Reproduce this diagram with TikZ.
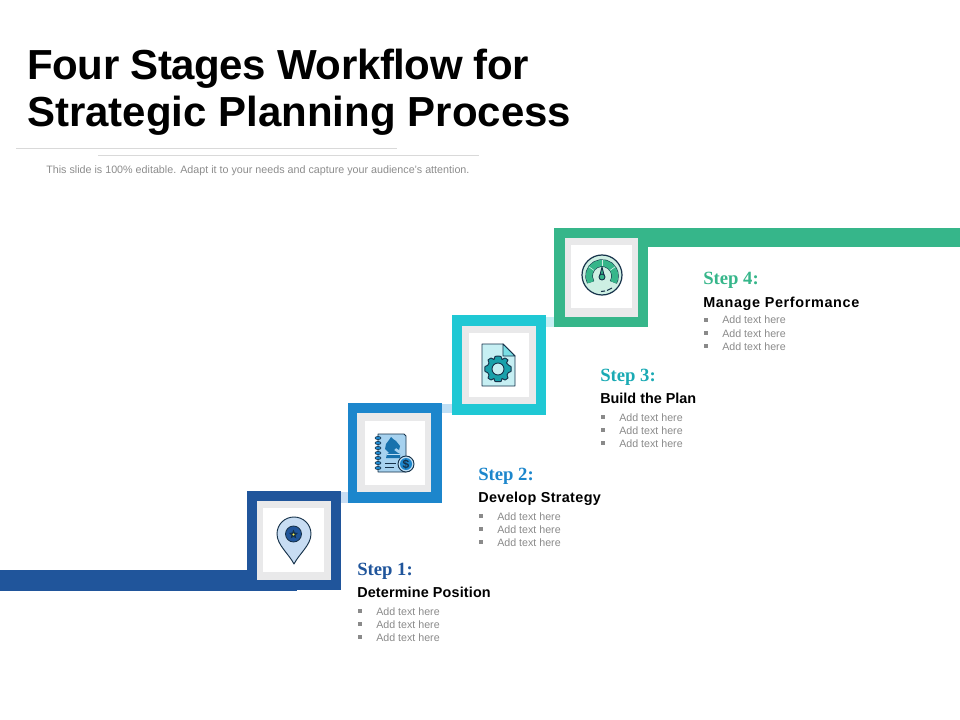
\documentclass[tikz,border=0pt]{standalone}
\usepackage{fontspec}
\setmainfont{Liberation Sans}
\newfontfamily\titlefont{Liberation Sans Bold}
\newfontfamily\headfont{Liberation Sans Bold}
\newfontfamily\stepfont{Liberation Serif Bold}
\definecolor{cA}{HTML}{20559B}
\definecolor{cB}{HTML}{1C86CC}
\definecolor{cC}{HTML}{1FC8D4}
\definecolor{cD}{HTML}{36B68A}
\definecolor{lA}{HTML}{C8DDF3}
\definecolor{lB}{HTML}{BFDFF5}
\definecolor{lC}{HTML}{C6EFF3}
\definecolor{lD}{HTML}{CDEFE3}
\definecolor{frameg}{HTML}{E9E9EA}
\definecolor{rulec}{HTML}{D9D9D9}
\definecolor{subc}{HTML}{8C8C8C}
\definecolor{addc}{HTML}{8A8A8A}
\definecolor{inkc}{HTML}{16324A}
\tikzset{
  titletext/.style={anchor=base west,inner sep=0pt,font=\titlefont\fontsize{31.5}{33}\selectfont,text=black},
  steptext/.style={anchor=base west,inner sep=0pt,font=\stepfont\fontsize{14}{14}\selectfont},
  headtext/.style={anchor=base west,inner sep=0pt,font=\headfont\fontsize{10.8}{12}\selectfont,text=black},
  addtext/.style={anchor=base west,inner sep=0pt,font=\fontsize{8}{10}\selectfont,text=addc},
  bulletmark/.style={fill=addc,draw=none,minimum size=2.4pt,inner sep=0pt},
  ruleline/.style={draw=rulec,line width=0.6pt},
  icon/.style={draw=inkc,line width=0.7pt,line join=round},
}
% id, colour, x, step baseline, list baseline, step text, heading letter spacing, heading
\newcommand{\textgroup}[8]{%
  \node[steptext,text=#2] (s#1) at (#3,#4) {#6};
  \node[headtext] (h#1) at (#3,#4+22) {\addfontfeatures{LetterSpace=#7}#8};
  \foreach \k/\d in {1/0,2/13,3/26}{
    \node[addtext] (a#1\k) at (#3+19,#5+\d) {Add text here};
    \node[bulletmark] (m#1\k) at (#3+3,#5+\d-4) {};
  }
}
\begin{document}
\begin{tikzpicture}[x=0.75pt,y=-0.75pt]
\useasboundingbox (0,0) rectangle (960,720);
% title
\node[titletext] (t1) at (27,80) {\addfontfeatures{LetterSpace=-1}Four Stages Workflow for};
\node[titletext] (t2) at (27,127) {Strategic Planning Process};
\draw[ruleline] (16,148.5) -- (397,148.5);
\draw[ruleline] (98,155) -- (479,155);
\node[anchor=base west,inner sep=0pt,font=\fontsize{8.05}{10}\selectfont,text=subc] (sub) at (46,174) {This slide is 100\% editable. Adapt it to your needs and capture your audience's attention.};
% connectors
\fill[lA] (341,492) rectangle (350,503);
\fill[lB] (442,404) rectangle (454,413);
\fill[lC] (546,317) rectangle (556,327);
% bands
\fill[cA] (0,570) rectangle (297,591);
\fill[cD] (554,228) rectangle (960,247);
% box 1
\fill[cA] (247,491) rectangle (341,590);
\fill[frameg] (257,501) rectangle (331,580);
\fill[white] (263,508) rectangle (324,572);
% box 2
\fill[cB] (348,403) rectangle (442,503);
\fill[frameg] (357,413) rectangle (431,492);
\fill[white] (365,421) rectangle (425,485);
% box 3
\fill[cC] (452,315) rectangle (546,415);
\fill[frameg] (462,326) rectangle (536,404);
\fill[white] (469,333) rectangle (529,397);
% box 4
\fill[cD] (554,228) rectangle (648,327);
\fill[frameg] (565,238) rectangle (638,317);
\fill[white] (571,245) rectangle (632,308);
% icon 1: pin
\draw[icon,fill=lA] (294,564) .. controls (289,554) and (277,545) .. (277,534)
  .. controls (277,524) and (285,517) .. (294,517)
  .. controls (303,517) and (311,524) .. (311,534)
  .. controls (311,545) and (299,554) .. (294,564) -- cycle;
\fill[cA,draw=inkc,line width=0.6pt] (293.5,534) circle[radius=8];
\fill[inkc] (293.5,529.5) -- (294.8,532.6) -- (298,533) -- (295.6,535.2) -- (296.3,538.4) -- (293.5,536.8) -- (290.7,538.4) -- (291.4,535.2) -- (289,533) -- (292.2,532.6) -- cycle;
\fill[yellow!70!white] (293.5,534.5) circle[radius=1.2];
% icon 2: notebook
\draw[icon,fill=lB!85!cB] (378,434) -- (404,434) -- (406,436) -- (406,472) -- (378,472) -- cycle;
\foreach \y in {438,443,448,453,458,463,468}{
  \draw[draw=inkc,fill=cB,line width=0.4pt] (378,\y) ellipse[x radius=3,y radius=1.6];
}
\fill[cB!85!black] (386,458) -- (400,458) -- (400,454) -- (398,453) -- (394,450) -- (396,448) -- (399,450) -- (400,446) -- (396,441) -- (393,439) -- (391,437) -- (389,440) -- (386,444) -- (385,449) -- (389,453) -- (387,454) -- cycle;
\draw[lB,line width=0.4pt] (387,454) -- (400,454);
\draw[inkc,line width=0.5pt] (385,463) -- (396,463) (385,467) -- (394,467);
\draw[icon,fill=lB] (406,464) circle[radius=8];
\fill[cB] (406,464) circle[radius=6];
\node[inner sep=0pt,font=\headfont\fontsize{9}{9}\selectfont,text=inkc] (dollar) at (406,464) {\$};
% icon 3: document with gear
\draw[icon,fill=lC] (482,344) -- (503,344) -- (515,356) -- (515,386) -- (482,386) -- cycle;
\draw[icon,fill=cC!60!white] (503,344) -- (503,356) -- (515,356) -- cycle;
\draw[icon,fill=cC!80!black] plot[smooth cycle,tension=0.15] coordinates {
 (498,356) (501,356.5) (502,359.5) (505,358) (508,360) (506.5,363) (509,365.5) (511,366.5) (511,371.5) (508.5,372.5) (507,375) (508,378) (505,380) (502,378.5) (501,381.5) (495,381.5) (494,378.5) (491,380) (488,378) (489,375) (487.5,372.5) (485,371.5) (485,366.5) (487.5,365.5) (489,363) (488,360) (491,358) (494,359.5) (495,356.5)};
\draw[icon,fill=lC] (498,369) circle[radius=6];
% icon 4: gauge
\draw[draw=inkc,line width=0.9pt,fill=lD] (602,275) circle[radius=20];
\draw[inkc,line width=5.6pt] (602,276) ++(151:13) arc[start angle=151,end angle=389,radius=13];
\draw[cD,line width=4.8pt] (602,276) ++(151:13) arc[start angle=151,end angle=389,radius=13];
\foreach \a in {215,270,325}{
  \draw[lD,line width=0.5pt] (602,276) ++(\a:9.8) -- ++(\a:6.4);
}
\draw[icon,fill=cD] (602,267) -- (604,275) -- (600,275) -- cycle;
\draw[icon,fill=cD] (602,277) circle[radius=3];
\draw[inkc,line width=0.8pt] (601,291.5) -- (605,291) (607,290.5) -- (612,288);
% texts
\textgroup{1}{cA}{357}{575}{615}{Step 1:}{1}{Determine Position}
\textgroup{2}{cB}{478}{480}{520}{Step 2:}{2.5}{Develop Strategy}
\textgroup{3}{cC!85!black}{600}{381}{421}{Step 3:}{0}{Build the Plan}
\textgroup{4}{cD}{703}{285}{324}{Step 4:}{4.5}{Manage Performance}
\end{tikzpicture}
\end{document}
